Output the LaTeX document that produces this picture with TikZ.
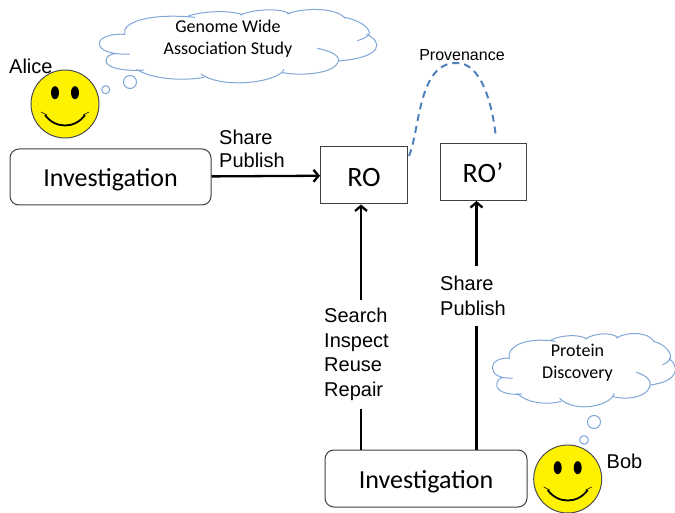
\documentclass[tikz,border=0pt]{standalone}
\usepackage{fontspec}
\usepackage{xcolor}
\setmainfont{Carlito}
\newfontfamily\arialfont{Liberation Sans}
\usetikzlibrary{positioning, arrows.meta}
\definecolor{cloudblue}{HTML}{7FA6D6}
\definecolor{provblue}{HTML}{4F81BD}
\tikzset{>={Straight Barb[length=5pt,width=12pt]},
box/.style={draw=black!75, line width=1pt, fill=white, inner sep=0pt, text height=20pt, text depth=0pt, font=\fontsize{28}{30}\selectfont},
invbox/.style={box, rounded corners=9pt, font=\fontsize{26}{30}\selectfont},
lbl/.style={font=\arialfont\fontsize{20}{24.5}\selectfont, align=left, inner sep=0pt},
cloudtext/.style={font=\fontsize{18}{22}\selectfont, align=center, inner sep=0pt},
flow/.style={line width=2.3pt},
bubble/.style={draw=cloudblue, line width=1pt, fill=white},
thoughtcloud/.pic={
    \draw[cloudblue, line width=1pt]
    (120,162) .. controls (60,165) and (28,150) .. (28,130) .. controls (28,112) and (65,100) .. (105,103)
    (105,103) .. controls (92,70) and (170,38) .. (315,52)
    (295,48) .. controls (330,35) and (420,28) .. (458,45)
    (450,45) .. controls (490,28) and (570,22) .. (600,42)
    (592,42) .. controls (640,22) and (740,22) .. (765,55)
    (762,52) .. controls (810,60) and (840,85) .. (838,100) .. controls (835,112) and (815,118) .. (802,122)
    (830,103) .. controls (878,125) and (882,172) .. (745,183)
    (682,145) .. controls (730,155) and (755,170) .. (742,190) .. controls (725,222) and (630,228) .. (578,218)
    (582,208) .. controls (570,245) and (400,270) .. (333,222)
    (342,232) .. controls (270,245) and (180,235) .. (140,208)
    (162,210) .. controls (90,215) and (48,200) .. (48,183) .. controls (48,170) and (60,162) .. (80,160);
},
smiley/.pic={
    \draw[fill=yellow, draw=black!70, line width=1pt] (0,0) circle (34pt);
    \fill (-10,11.3) ellipse (4pt and 6.5pt);
    \fill (10,11.3) ellipse (4pt and 6.5pt);
    \draw[line width=1.8pt] (-20,-11) .. controls (-10,-25) and (10,-25) .. (20,-11);
    \draw[line width=.6pt] (-24,-8) -- (-18,-11) (24,-8) -- (18,-11);
},
}

\begin{document}
\begin{tikzpicture}[x=1pt, y=1pt]
    \useasboundingbox (0,0) rectangle (675,512);

    \pic[shift={(90,512)}, xscale=1/3, yscale=-1/3] {thoughtcloud};
    \pic[shift={(486.2,188)}, xscale=.22, yscale=-1/3] {thoughtcloud};
    \draw[bubble] (130,430) circle (6.5pt) (105.7,422.3) circle (4pt);
    \draw[bubble] (594,90) circle (6.5pt) (584,72) circle (4.3pt);
    \pic at (65,408) {smiley};
    \pic at (567.7,33) {smiley};

    \node[invbox, xshift=110.5pt, yshift=335pt, minimum width=201pt, minimum height=56pt] (inv1) {Investigation};
    \node[box, xshift=364pt, yshift=336.5pt, minimum width=87pt, minimum height=57pt, text height=22pt] (ro) {RO};
    \node[box, xshift=483pt, yshift=340pt, minimum width=86pt, minimum height=57pt, text height=21pt] (ropr) {RO’};
    \node[invbox, xshift=426pt, yshift=33.5pt, minimum width=202pt, minimum height=57pt, text height=19pt] (inv2) {Investigation};

    \node[lbl, anchor=west, xshift=9pt, yshift=446pt] (alice) {Alice};
    \node[lbl, anchor=west, xshift=606.5pt, yshift=51pt] (bob) {Bob};
    \node[lbl, font=\arialfont\fontsize{20}{22.5}\selectfont, anchor=west, xshift=219pt, yshift=363pt] (share1) {Share\\Publish};
    \node[lbl, anchor=west, xshift=324pt, yshift=157.5pt, minimum height=109pt] (search) {Search\\Inspect\\Reuse\\Repair};
    \node[lbl, anchor=west, xshift=440pt, yshift=216pt, minimum height=59pt] (share2) {Share\\Publish};
    \node[lbl, font=\arialfont\fontsize{16}{20}\selectfont, xshift=462pt, yshift=457pt] (prov) {Provenance};
    \node[cloudtext, xshift=228pt, yshift=473.5pt] (gwas) {Genome Wide\\Association Study};
    \node[cloudtext, xshift=577.5pt, yshift=149pt] (protein) {Protein\\Discovery};

    \coordinate (roin) at (361,0);
    \coordinate (roprin) at (476.5,0);
    \coordinate (provstart) at (409,356);
    \coordinate (provtop) at (457,449);
    \coordinate (provend) at (496,374);

    \draw[->, flow] (inv1) -- (ro);
    \draw[flow] (inv2.north -| roin) -- (search.south -| roin);
    \draw[->, flow] (search.north -| roin) -- (ro.south -| roin);
    \draw[flow] (inv2.north -| roprin) -- (share2.south -| roprin);
    \draw[->, flow] (share2.north -| roprin) -- (ropr.south -| roprin);
    \draw[provblue, dashed, line width=2pt, dash pattern=on 7pt off 5pt]
    (provstart) .. controls (420,382) and (418,450) .. (provtop)
    .. controls (480,449) and (492,412) .. (provend);
\end{tikzpicture}
\end{document}
